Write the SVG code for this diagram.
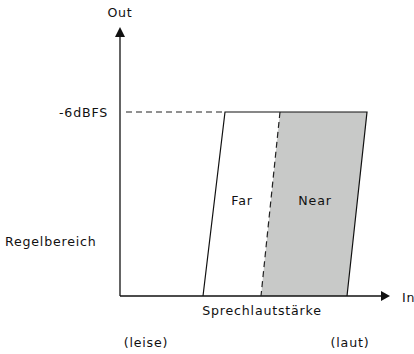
<svg xmlns="http://www.w3.org/2000/svg" width="414" height="354" viewBox="0 0 414 354">
<style>
text{font-family:"DejaVu Sans","Liberation Sans",sans-serif;font-size:12.6px;letter-spacing:0.8px;fill:#111}
.ax{stroke:#111;stroke-width:1.3;fill:none}
.ln{stroke:#111;stroke-width:1.2;fill:none}
.ds{stroke:#222;stroke-width:1.2;fill:none;stroke-dasharray:6,4}
</style>
<rect width="414" height="354" fill="#fff"/>
<g id="near">
<polygon points="280,112 367,112 347,296 261,296" fill="#c8c9c8"/>
<text x="315" y="205" text-anchor="middle">Near</text>
</g>
<g id="far">
<text x="242" y="205" text-anchor="middle">Far</text>
</g>
<g id="connectors">
<line class="ax" x1="120" y1="36" x2="120" y2="296"/>
<polygon points="120,27 115,37 125,37" fill="#111"/>
<line class="ax" x1="120" y1="296" x2="382" y2="296"/>
<polygon points="390,296 381,291 381,301" fill="#111"/>
<polyline class="ln" points="203,296 225,112 367,112 347,296"/>
<line class="ds" x1="280" y1="112" x2="261" y2="296"/>
<line class="ds" x1="126" y1="112" x2="225" y2="112"/>
</g>
<g id="labels">
<text x="120" y="17" text-anchor="middle">Out</text>
<text x="108" y="117" text-anchor="end">-6dBFS</text>
<text x="5" y="246">Regelbereich</text>
<text x="262" y="315" text-anchor="middle">Sprechlautstärke</text>
<text x="402" y="302">In</text>
<text x="146" y="347" text-anchor="middle">(leise)</text>
<text x="350" y="347" text-anchor="middle">(laut)</text>
</g>
</svg>
